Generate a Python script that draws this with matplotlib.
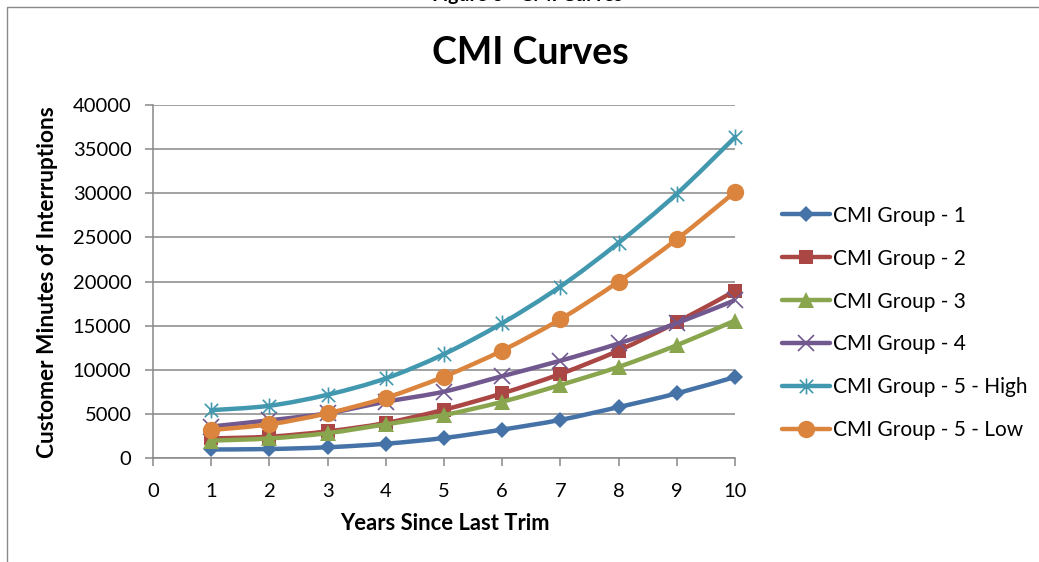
import matplotlib
matplotlib.use("Agg")
import matplotlib.pyplot as plt
from matplotlib.path import Path
from matplotlib.patches import PathPatch
from matplotlib.lines import Line2D
import numpy as np

# ---- data -------------------------------------------------------------
years = [1, 2, 3, 4, 5, 6, 7, 8, 9, 10]

group_1 = [1000, 1050, 1250, 1650, 2300, 3250, 4350, 5800, 7350, 9200]
group_2 = [2250, 2450, 3050, 4000, 5500, 7350, 9550, 12200, 15400, 18950]
group_3 = [2000, 2250, 2850, 3850, 4900, 6400, 8300, 10350, 12800, 15600]
group_4 = [3600, 4300, 5100, 6400, 7550, 9300, 11050, 13000, 15300, 17900]
group_5_high = [5450, 5950, 7200, 9050, 11800, 15300, 19450, 24400, 29950, 36350]
group_5_low = [3200, 3850, 5100, 6850, 9250, 12200, 15750, 20000, 24800, 30150]

series_names = ["CMI Group - 1", "CMI Group - 2", "CMI Group - 3",
                "CMI Group - 4", "CMI Group - 5 - High", "CMI Group - 5 - Low"]
series_values = [group_1, group_2, group_3, group_4, group_5_high, group_5_low]

x_ticks = list(range(0, 11))
y_ticks = list(range(0, 40001, 5000))

# ---- style ------------------------------------------------------------
colors = ["#4572A7", "#AA4643", "#89A54E", "#71588F", "#4198AF", "#DB843D"]

# asterisk marker: an "x" crossed with a vertical bar
star_path = Path(
    [(-0.5, -0.5), (0.5, 0.5), (-0.5, 0.5), (0.5, -0.5), (0.0, -0.6), (0.0, 0.6)],
    [Path.MOVETO, Path.LINETO, Path.MOVETO, Path.LINETO, Path.MOVETO, Path.LINETO],
)

markers = [
    dict(marker="D", markersize=7.8, markeredgewidth=0),
    dict(marker="s", markersize=10.5, markeredgewidth=0),
    dict(marker="^", markersize=11.5, markeredgewidth=0),
    dict(marker="x", markersize=11, markeredgewidth=1.2),
    dict(marker=star_path, markersize=11.5, markeredgewidth=1.2),
    dict(marker="o", markersize=12.5, markeredgewidth=0),
]

FONT = "Lato"
plt.rcParams["font.family"] = [FONT, "DejaVu Sans"]

W, H = 1039, 562
fig = plt.figure(figsize=(W / 100, H / 100), dpi=100)


def fx(px):
    return px / W


def fy(py):
    return 1 - py / H


ax = fig.add_axes([fx(153), fy(458.3), fx(735) - fx(153), fy(105) - fy(458.3)])
ax.set_xlim(0, 10)
ax.set_ylim(0, 40000)

grid_c = "#888888"
ax.set_yticks(y_ticks)
ax.set_xticks(x_ticks)
ax.yaxis.grid(True, color=grid_c, linewidth=1.1)
ax.set_axisbelow(True)
for side in ("top", "right"):
    ax.spines[side].set_visible(False)
for side in ("left", "bottom"):
    ax.spines[side].set_color(grid_c)
    ax.spines[side].set_linewidth(1.1)
ax.tick_params(axis="both", direction="out", length=5.5, width=1.1,
               color=grid_c, labelsize=14.5, labelcolor="black")
ax.tick_params(axis="y", pad=10)
ax.tick_params(axis="x", pad=12)


def smooth_path(xs, ys):
    """Bezier path through the points (Catmull-Rom style tangents)."""
    pts = np.column_stack([xs, ys]).astype(float)
    n = len(pts)
    verts = [tuple(pts[0])]
    codes = [Path.MOVETO]
    for i in range(n - 1):
        p0 = pts[i - 1] if i > 0 else pts[i]
        p1 = pts[i]
        p2 = pts[i + 1]
        p3 = pts[i + 2] if i + 2 < n else pts[i + 1]
        c1 = p1 + (p2 - p0) / 6.0
        c2 = p2 - (p3 - p1) / 6.0
        verts += [tuple(c1), tuple(c2), tuple(p2)]
        codes += [Path.CURVE4] * 3
    return Path(verts, codes)


LW = 3.2
handles = []
for k, (name, vals) in enumerate(zip(series_names, series_values)):
    c = colors[k]
    patch = PathPatch(smooth_path(years, vals), facecolor="none", edgecolor=c,
                      linewidth=LW, capstyle="round", joinstyle="round",
                      zorder=3 + 2 * k)
    ax.add_patch(patch)
    ax.plot(years, vals, linestyle="none", color=c, markerfacecolor=c,
            markeredgecolor=c, zorder=4 + 2 * k, clip_on=False, **markers[k])
    handles.append(Line2D([], [], color=c, linewidth=LW, solid_capstyle="round",
                          markerfacecolor=c, markeredgecolor=c, label=name,
                          **markers[k]))

leg = fig.legend(handles=handles, loc="center left",
                 bbox_to_anchor=(fx(782), fy(323)), frameon=False,
                 fontsize=15, handlelength=2.3, handletextpad=0.15,
                 labelspacing=1.1, borderpad=0, borderaxespad=0)

# titles and axis labels
fig.text(fx(530), fy(53), "CMI Curves", ha="center", va="center",
         fontsize=27, fontweight="bold")
fig.text(fx(445), fy(524), "Years Since Last Trim", ha="center", va="center",
         fontsize=15.8, fontweight="bold")
fig.text(fx(48), fy(282), "Customer Minutes of Interruptions", ha="center",
         va="center", rotation=90, fontsize=16.3, fontweight="bold")

# caption above the chart frame
fig.text(fx(527), fy(1.5), "Figure 6 - CMI Curves", ha="center",
         va="baseline", fontsize=14, fontweight="bold")

# chart frame
frame_c = "#8a8a8a"
fig.add_artist(Line2D([fx(6.5), fx(6.5), fx(W + 5)], [fy(H + 5), fy(6.5), fy(6.5)],
                      transform=fig.transFigure, color=frame_c, linewidth=1.0))

fig.savefig("out.png", dpi=100)
